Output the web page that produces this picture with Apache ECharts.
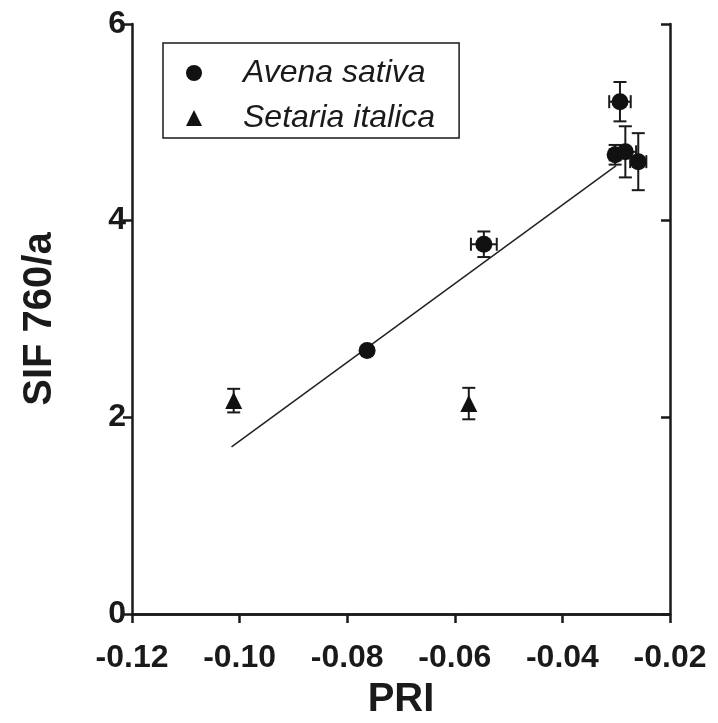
<!DOCTYPE html>
<html>
<head>
<meta charset="utf-8">
<script src="https://cdn.jsdelivr.net/npm/echarts@6/dist/echarts.min.js"></script>
<style>html,body{margin:0;padding:0;background:#fff}#c{width:718px;height:723px}</style>
</head>
<body>
<div id="c"></div>
<script>
// ---- data ----
const xTicks = [-0.12, -0.10, -0.08, -0.06, -0.04, -0.02];
const yTicks = [0, 2, 4, 6];
const avenaPRI    = [-0.0763, -0.0546, -0.0293, -0.0302, -0.0283, -0.0259];
const avenaSIF    = [2.68, 3.76, 5.21, 4.67, 4.70, 4.60];
const avenaPRIerr = [0, 0.0024, 0.002, 0.001, 0.002, 0.0015];
const avenaSIFerr = [0, 0.13, 0.20, 0.10, 0.26, 0.29];
const setariaPRI    = [-0.1011, -0.0574];
const setariaSIF    = [2.17, 2.14];
const setariaPRIerr = [0, 0];
const setariaSIFerr = [0.12, 0.16];
const fitPRI = [-0.1015, -0.0300];
const fitSIF = [1.70, 4.56];
const seriesNames = ['Avena sativa', 'Setaria italica'];

const FONT = '"Liberation Sans", Arial, Helvetica, sans-serif';
const INK = '#1a1a1a';

const avenaData = avenaPRI.map((x, i) => [x, avenaSIF[i]]);
const setariaData = setariaPRI.map((x, i) => [x, setariaSIF[i]]);
const errData = avenaPRI.map((x, i) => [x, avenaSIF[i], avenaPRIerr[i], avenaSIFerr[i]])
  .concat(setariaPRI.map((x, i) => [x, setariaSIF[i], setariaPRIerr[i], setariaSIFerr[i]]));
const fitData = fitPRI.map((x, i) => [x, fitSIF[i]]);

function renderErr(params, api) {
  const x = api.value(0), y = api.value(1), ex = api.value(2), ey = api.value(3);
  const cap = 6.5;
  const children = [];
  const st = { stroke: INK, lineWidth: 2 };
  if (ey > 0) {
    const top = api.coord([x, y + ey]), bot = api.coord([x, y - ey]);
    children.push({ type: 'line', shape: { x1: top[0], y1: top[1], x2: bot[0], y2: bot[1] }, style: st });
    children.push({ type: 'line', shape: { x1: top[0] - cap, y1: top[1], x2: top[0] + cap, y2: top[1] }, style: st });
    children.push({ type: 'line', shape: { x1: bot[0] - cap, y1: bot[1], x2: bot[0] + cap, y2: bot[1] }, style: st });
  }
  if (ex > 0) {
    const l = api.coord([x - ex, y]), r = api.coord([x + ex, y]);
    children.push({ type: 'line', shape: { x1: l[0], y1: l[1], x2: r[0], y2: r[1] }, style: st });
    children.push({ type: 'line', shape: { x1: l[0], y1: l[1] - cap, x2: l[0], y2: l[1] + cap }, style: st });
    children.push({ type: 'line', shape: { x1: r[0], y1: r[1] - cap, x2: r[0], y2: r[1] + cap }, style: st });
  }
  return { type: 'group', children };
}

const axisLine = { show: true, lineStyle: { color: INK, width: 2.5 } };
const chart = echarts.init(document.getElementById('c'), null, { renderer: 'canvas' });
chart.setOption({
  animation: false,
  backgroundColor: '#fff',
  grid: { left: 132, right: 48, top: 24, bottom: 109, containLabel: false, outerBoundsMode: 'none' },
  legend: {
    orient: 'vertical',
    left: 163, top: 43,
    data: seriesNames,
    padding: [14, 24, 4, 23],
    itemGap: 13,
    itemWidth: 16, itemHeight: 16,
    borderColor: INK, borderWidth: 1.5,
    textStyle: { fontFamily: FONT, fontStyle: 'italic', fontSize: 32, color: INK, padding: [0, 0, 0, 36] }
  },
  xAxis: [{
    type: 'value', min: -0.12, max: -0.02, interval: 0.02, position: 'bottom',
    name: 'PRI', nameLocation: 'middle', nameGap: 66,
    nameTextStyle: { fontFamily: FONT, fontWeight: 'bold', fontSize: 40, color: INK },
    axisLine, axisTick: { show: true, inside: false, length: 9, lineStyle: { color: INK, width: 2.5 } },
    axisLabel: { fontFamily: FONT, fontWeight: 'bold', fontSize: 32, color: INK, margin: 28,
      formatter: v => v.toFixed(2) },
    splitLine: { show: false }
  }, {
    type: 'value', min: -0.12, max: -0.02, interval: 0.02, position: 'top',
    axisLine, axisTick: { show: true, inside: true, length: 9, lineStyle: { color: INK, width: 2.5 } },
    axisLabel: { show: false }, splitLine: { show: false }
  }],
  yAxis: [{
    type: 'value', min: 0, max: 6, interval: 2, position: 'left',
    name: 'SIF 760/a', nameLocation: 'middle', nameGap: 72,
    nameTextStyle: { fontFamily: FONT, fontWeight: 'bold', fontSize: 40, color: INK },
    axisLine, axisTick: { show: true, inside: false, length: 9, lineStyle: { color: INK, width: 2.5 } },
    axisLabel: { fontFamily: FONT, fontWeight: 'bold', fontSize: 32, color: INK, margin: 6 },
    splitLine: { show: false }
  }, {
    type: 'value', min: 0, max: 6, interval: 2, position: 'right',
    axisLine, axisTick: { show: true, inside: true, length: 9, lineStyle: { color: INK, width: 2.5 } },
    axisLabel: { show: false }, splitLine: { show: false }
  }],
  series: [
    { type: 'line', data: fitData, showSymbol: false, symbol: 'none', silent: true,
      lineStyle: { color: '#222', width: 1.5 }, z: 1 },
    { type: 'custom', data: errData, renderItem: renderErr, silent: true, z: 2 },
    { name: seriesNames[0], type: 'scatter', data: avenaData, symbol: 'circle', symbolSize: 17,
      itemStyle: { color: '#111', opacity: 1 }, z: 3 },
    { name: seriesNames[1], type: 'scatter', data: setariaData, symbol: 'triangle', symbolSize: 17,
      itemStyle: { color: '#111', opacity: 1 }, z: 3 }
  ]
});
</script>
</body>
</html>
